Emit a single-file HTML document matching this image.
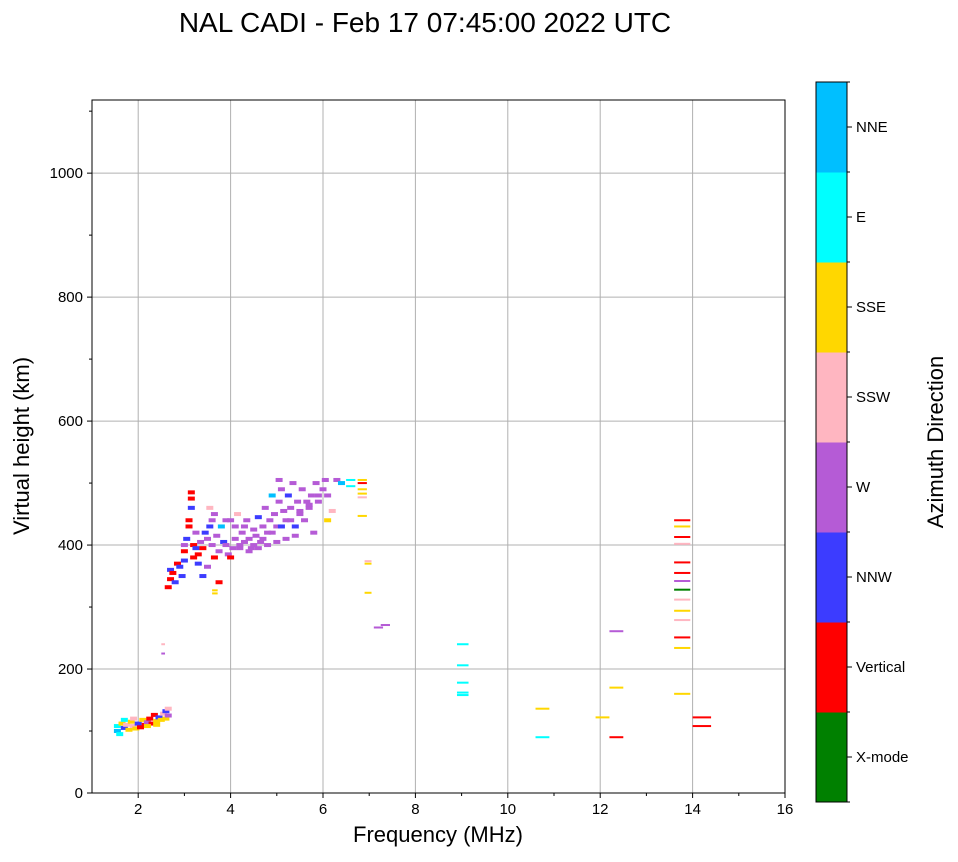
<!DOCTYPE html>
<html><head><meta charset="utf-8">
<style>
html,body{margin:0;padding:0;background:#fff;}
body{width:958px;height:857px;overflow:hidden;font-family:"Liberation Sans","DejaVu Sans",sans-serif;}
</style></head>
<body>
<svg id="chart" width="958" height="857" xmlns="http://www.w3.org/2000/svg" font-family="Liberation Sans, DejaVu Sans, sans-serif">
<text x="425" y="32" font-size="28" text-anchor="middle">NAL CADI - Feb 17 07:45:00 2022 UTC</text>
<g id="grid"></g>
<g id="marks"></g>
<rect x="92" y="100" width="693" height="693" fill="none" stroke="#000" stroke-width="1"/>
<g id="axes"></g>
<text x="438" y="842" font-size="22" text-anchor="middle">Frequency (MHz)</text>
<text transform="translate(29,446) rotate(-90)" font-size="22" text-anchor="middle">Virtual height (km)</text>
<g id="cbar"></g>
<text transform="translate(943,442) rotate(-90)" font-size="22" text-anchor="middle">Azimuth Direction</text>
</svg>
<script>
const xTicks=[2,4,6,8,10,12,14,16];
const yTicks=[0,200,400,600,800,1000];
const dirNames=["X-mode","Vertical","NNW","W","SSW","SSE","E","NNE"];
const dirColors=["#008000","#ff0000","#3c3cff","#b55bd6","#ffb6c1","#ffd700","#00ffff","#00bfff"];
// dense clusters: freq (MHz), height (km), direction index
const clusterFreq=[1.55,1.55,1.6,1.65,1.7,1.75,1.8,1.85,1.9,1.95,2.0,2.05,2.1,2.15,2.2,2.25,2.3,2.35,2.4,2.45,2.5,2.55,2.6,2.6,2.65,2.65,1.7,1.9,2.2,2.4,
2.65,2.7,2.7,2.75,2.8,2.85,2.9,2.95,3.0,3.0,3.05,3.1,3.1,3.15,3.15,3.15,3.2,3.2,3.25,3.3,3.3,3.35,3.4,3.45,3.5,3.55,3.6,3.6,3.65,3.7,3.75,3.75,3.8,3.85,3.9,3.95,4.0,4.05,4.1,4.15,4.2,4.25,4.3,4.35,4.4,4.45,4.5,4.55,4.6,4.65,4.7,4.75,4.8,4.85,4.9,4.95,5.0,5.05,5.05,5.1,5.15,5.2,5.25,5.3,5.35,5.4,5.45,5.5,5.55,5.6,5.65,5.7,5.75,5.8,5.85,5.9,6.0,6.05,6.1,6.1,6.2,6.3,6.4,3.4,3.5,4.0,4.2,4.4,4.6,4.8,5.0,5.2,5.4,3.9,4.3,4.5,4.7,4.9,5.1,5.3,5.5,5.7,5.9,3.65,3.55,3.25,3.0,4.1];
const clusterHeight=[108,100,95,112,105,110,102,115,108,104,112,106,118,110,114,120,112,126,116,122,118,128,132,120,136,125,118,120,108,110,
332,345,360,355,340,370,365,350,375,390,410,440,430,475,485,460,400,380,395,385,370,405,395,420,410,430,400,440,380,415,390,340,430,405,400,385,440,395,410,450,400,420,405,440,410,395,425,415,445,405,430,460,420,440,480,450,430,470,505,490,455,440,480,460,500,430,470,450,490,440,470,460,480,420,500,470,490,505,480,440,455,505,500,350,365,380,395,390,395,400,405,410,415,440,430,400,410,420,430,440,455,465,480,450,460,420,400,430];
const clusterDir=[6,7,6,5,2,4,5,5,4,5,2,1,5,1,3,1,1,1,5,2,5,4,2,5,4,3,6,4,5,5,
1,1,2,1,2,1,2,2,2,1,2,1,1,1,1,2,1,1,2,1,2,3,1,2,3,2,3,3,1,3,3,1,7,2,3,3,3,3,3,4,3,3,3,3,3,3,3,3,2,3,3,3,3,3,7,3,3,3,3,3,3,3,2,3,3,2,3,3,3,3,3,3,3,3,3,3,3,3,3,5,4,3,7,2,3,1,3,3,3,3,3,3,3,3,3,3,3,3,2,3,3,3,3,3,4,3,3,3,3,3,3];
// sparse echoes: freq start, freq end, height, direction
const sparseF0=[13.6,13.6,13.6,13.6,13.6,13.6,13.6,13.6,13.6,13.6,13.6,13.6,13.6,13.6,14.0,14.0,12.2,12.2,12.2,11.9,10.6,10.6,8.9,8.9,8.9,8.9,8.9,7.25,7.1,6.9,6.9,6.9,6.75,6.75,6.75,6.75,6.75,6.75,6.5,6.5,2.5,2.5,3.6,3.6];
const sparseF1=[13.95,13.95,13.95,13.95,13.95,13.95,13.95,13.95,13.95,13.95,13.95,13.95,13.95,13.95,14.4,14.4,12.5,12.5,12.5,12.2,10.9,10.9,9.15,9.15,9.15,9.15,9.15,7.45,7.3,7.05,7.05,7.05,6.95,6.95,6.95,6.95,6.95,6.95,6.7,6.7,2.58,2.58,3.72,3.72];
const sparseH=[440,430,413,402,372,355,342,328,312,294,279,251,234,160,122,108,261,170,90,122,136,90,240,206,178,162,158,271,267,374,370,323,505,500,490,483,477,447,505,495,240,225,327,322];
const sparseDir=[1,5,1,4,1,1,3,0,4,5,4,1,5,5,1,1,3,5,1,5,5,6,6,6,6,6,6,3,3,4,5,5,5,1,5,5,4,5,6,6,4,3,5,5];

const NS="http://www.w3.org/2000/svg";
const X0=92,X1=785,Y0=793,Y1=100,xmin=1,xmax=16,ymin=0,ymax=1118;
function xs(v){return X0+(v-xmin)/(xmax-xmin)*(X1-X0);}
function ys(v){return Y0-(v-ymin)/(ymax-ymin)*(Y0-Y1);}
function mk(tag,attrs,parent){const e=document.createElementNS(NS,tag);for(const k in attrs)e.setAttribute(k,attrs[k]);parent.appendChild(e);return e;}
const grid=document.getElementById('grid'),axes=document.getElementById('axes'),marks=document.getElementById('marks'),cbar=document.getElementById('cbar');
xTicks.forEach(t=>{
  const x=xs(t);
  if(t<xmax){const g=mk('line',{x1:x,x2:x,y1:Y1,y2:Y0,stroke:'#b0b0b0','stroke-width':1},grid);
  
  }
  mk('line',{x1:x,x2:x,y1:Y0,y2:Y0+5,stroke:'#000'},axes);
  const l=mk('text',{x:x,y:Y0+21,'font-size':15,'text-anchor':'middle'},axes);l.textContent=t;
  
  
});
for(let m=2;m<16;m+=1){if(m%2){mk('line',{x1:xs(m),x2:xs(m),y1:Y0,y2:Y0+3,stroke:'#000'},axes);}}
yTicks.forEach(t=>{
  const y=ys(t);
  const g=mk('line',{x1:X0,x2:X1,y1:y,y2:y,stroke:'#b0b0b0','stroke-width':1},grid);
  
  
  mk('line',{x1:X0-5,x2:X0,y1:y,y2:y,stroke:'#000'},axes);
  const l=mk('text',{x:X0-9,y:y+5,'font-size':15,'text-anchor':'end'},axes);l.textContent=t;
  
  
});
for(let m=100;m<1118;m+=200){mk('line',{x1:X0-3,x2:X0,y1:ys(m),y2:ys(m),stroke:'#000'},axes);}
clusterFreq.forEach((f,i)=>{
  const d=clusterDir[i]===undefined?3:clusterDir[i];
  const r=mk('rect',{x:xs(f)-3.5,y:ys(clusterHeight[i])-2,width:7,height:4,fill:dirColors[d]},marks);
  
  
});
sparseF0.forEach((f,i)=>{
  const r=mk('rect',{x:xs(f),y:ys(sparseH[i])-1,width:xs(sparseF1[i])-xs(f),height:2,fill:dirColors[sparseDir[i]]},marks);
  
  
});
const CB0=82,CB1=802,CX=816,CW=31,seg=(CB1-CB0)/dirNames.length;
dirNames.forEach((n,i)=>{
  const y=CB1-(i+1)*seg;
  const r=mk('rect',{x:CX,y:y,width:CW,height:seg+0.5,fill:dirColors[i]},cbar);
  
  
  mk('line',{x1:CX+CW,x2:CX+CW+5,y1:y+seg/2,y2:y+seg/2,stroke:'#000'},cbar);
  const l=mk('text',{x:CX+CW+9,y:y+seg/2+5,'font-size':15},cbar);l.textContent=n;
  
  
});
for(let i=0;i<=dirNames.length;i++){mk('line',{x1:CX+CW,x2:CX+CW+3,y1:CB1-i*seg,y2:CB1-i*seg,stroke:'#000'},cbar);}
mk('rect',{x:CX,y:CB0,width:CW,height:CB1-CB0,fill:'none',stroke:'#000'},cbar);
</script>
</body></html>
